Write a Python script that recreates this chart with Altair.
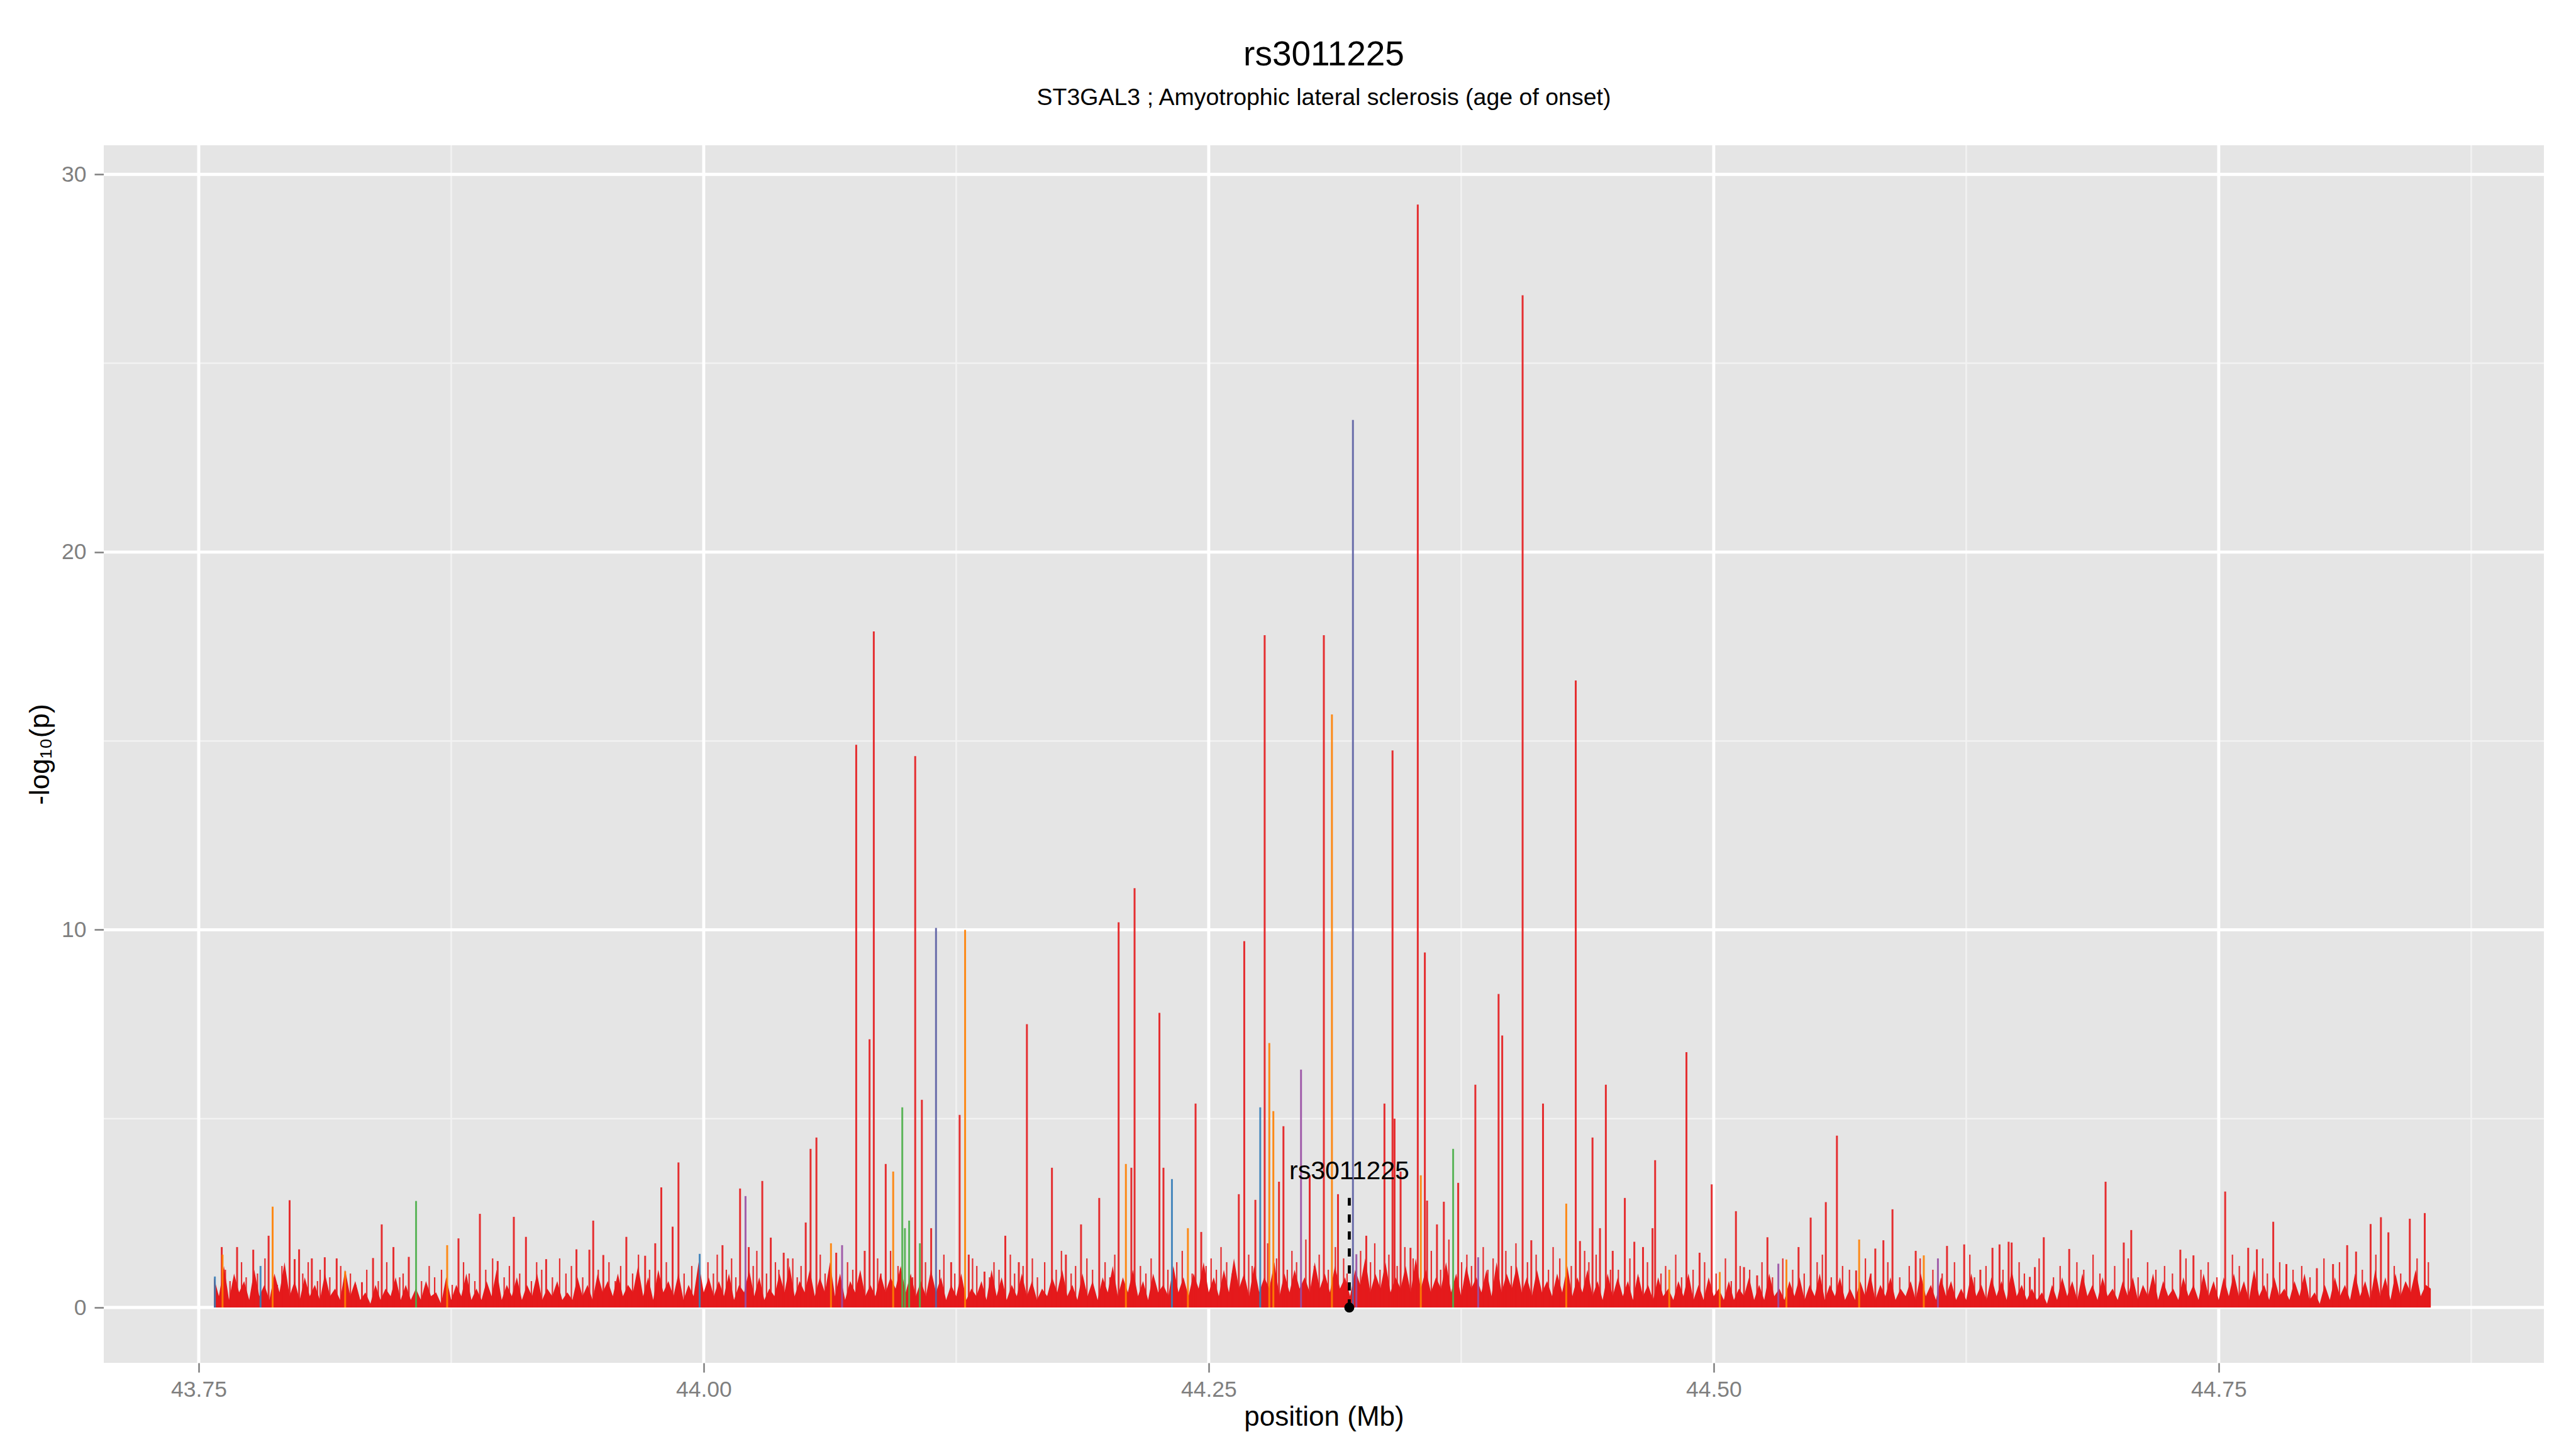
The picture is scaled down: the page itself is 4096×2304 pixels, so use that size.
import altair as alt
import pandas as pd

TITLE = "rs3011225"
SUBTITLE = "ST3GAL3 ; Amyotrophic lateral sclerosis (age of onset)"
X_TITLE = "position (Mb)"
Y_TITLE = "-log₁₀(p)"

x_ticks = [43.75, 44.00, 44.25, 44.50, 44.75]
x_minor = [43.875, 44.125, 44.375, 44.625, 44.875]
y_ticks = [0, 10, 20, 30]
y_minor = [5, 15, 25]
x_domain = [43.703, 44.911]
y_domain = [-1.465, 30.77]

# dense background signal on a 2.5 kb grid (read as local envelope)
base_start = 43.7575
base_step = 0.0025
base_lp = [
    0.8,0.3,1.1,0.2,0.9,0.4,0.7,0.2,1.0,0.3,0.6,0.2,0.9,0.4,1.2,0.3,0.7,0.2,0.8,0.3,
    0.6,0.2,0.9,0.3,0.5,0.2,1.0,0.3,0.7,0.2,0.4,0.1,0.6,0.2,0.5,0.3,0.8,0.2,0.6,0.2,
    0.5,0.2,0.7,0.3,0.4,0.1,0.8,0.2,0.6,0.3,0.9,0.2,0.5,0.2,0.7,0.3,1.0,0.2,0.6,0.3,
    0.8,0.2,0.6,0.3,0.9,0.2,0.5,0.3,0.7,0.2,0.4,0.2,0.8,0.3,0.6,0.2,0.9,0.4,0.7,0.3,
    0.9,0.3,0.6,0.4,1.1,0.3,0.8,0.2,1.0,0.4,0.7,0.3,0.9,0.2,0.6,0.3,1.2,0.4,0.8,0.3,
    0.7,0.3,0.9,0.2,0.6,0.4,1.0,0.3,0.8,0.2,0.5,0.3,0.9,0.4,1.1,0.3,0.7,0.4,1.0,0.3,
    0.8,0.4,1.2,0.3,0.9,0.2,0.7,0.4,1.0,0.3,0.6,0.3,0.9,0.4,0.8,0.5,1.1,0.4,0.9,0.3,
    0.7,0.3,1.0,0.4,0.8,0.2,0.6,0.3,0.9,0.2,0.5,0.3,0.7,0.2,1.0,0.3,0.8,0.2,0.6,0.3,
    0.9,0.3,0.7,0.2,0.5,0.3,0.8,0.4,1.0,0.3,0.6,0.2,0.9,0.3,0.7,0.2,0.8,0.4,1.1,0.3,
    0.8,0.4,1.0,0.3,0.7,0.2,0.9,0.4,0.6,0.3,1.1,0.4,0.8,0.3,0.9,0.5,1.2,0.4,0.8,0.3,
    1.0,0.4,1.3,0.5,0.9,0.3,1.1,0.4,0.8,0.5,1.2,0.3,0.9,0.4,1.0,0.5,0.8,0.4,1.2,0.5,
    0.9,0.4,1.1,0.5,0.8,0.3,1.0,0.6,1.3,0.4,0.9,0.5,1.2,0.4,0.8,0.5,1.1,0.4,1.3,0.5,
    1.0,0.4,0.8,0.5,1.2,0.4,0.9,0.3,1.1,0.5,0.8,0.4,1.0,0.3,1.2,0.4,0.9,0.5,1.1,0.4,
    0.8,0.3,1.0,0.4,0.7,0.3,0.9,0.4,1.1,0.3,0.8,0.4,1.0,0.3,0.7,0.2,0.9,0.3,0.8,0.3,
    0.7,0.2,0.9,0.3,0.6,0.2,0.8,0.3,0.5,0.2,0.7,0.3,0.9,0.2,0.6,0.2,0.8,0.3,0.5,0.2,
    0.7,0.2,0.5,0.3,0.8,0.2,0.6,0.2,0.9,0.3,0.5,0.2,0.7,0.3,0.8,0.2,0.6,0.3,0.9,0.2,
    0.6,0.3,0.8,0.2,0.5,0.2,0.7,0.3,0.9,0.2,0.6,0.3,0.8,0.2,0.5,0.3,0.7,0.2,0.9,0.3,
    0.6,0.2,0.8,0.3,0.7,0.2,0.5,0.2,0.9,0.3,0.6,0.2,0.8,0.3,0.7,0.2,1.0,0.3,0.6,0.2,
    0.5,0.2,0.4,0.1,0.6,0.2,0.8,0.3,0.7,0.2,0.9,0.3,0.6,0.2,0.8,0.3,0.5,0.2,0.7,0.3,
    0.8,0.2,0.6,0.3,0.9,0.2,0.7,0.3,0.5,0.2,0.8,0.3,0.6,0.2,0.9,0.3,0.7,0.2,0.8,0.3,
    0.9,0.3,0.7,0.2,1.0,0.3,0.6,0.2,0.8,0.3,0.5,0.2,0.7,0.3,0.9,0.2,0.4,0.1,0.6,0.2,
    0.8,0.3,0.6,0.2,0.9,0.3,0.7,0.2,1.0,0.3,0.8,0.2,0.9,0.3,0.7,0.4,1.0,0.3,0.6,0.5,
]

# small background SNP spikes (red, low LD)
fine_pos = [
    43.7632,43.7655,43.7712,43.7735,43.7791,43.7828,43.7889,43.7912,43.8015,43.8042,
    43.8088,43.8101,43.8149,43.8203,43.8251,43.8277,43.8332,43.8389,43.8431,43.8495,
    43.8512,43.8603,43.8641,43.8668,43.8702,43.8755,43.8811,43.8839,43.8867,43.8921,
    43.8955,43.9012,43.9038,43.9089,43.9147,43.9173,43.9198,43.9251,43.9287,43.9318,
    43.9345,43.9401,43.9478,43.9531,43.9562,43.9589,43.9648,43.9677,43.9732,43.9815,
    43.9903,43.9941,
    44.0021,44.0048,44.0067,44.0112,44.0138,44.0159,44.0245,44.0263,44.0311,44.0355,
    44.0372,44.0441,44.0463,44.0482,44.0577,44.0601,44.0712,44.0738,44.0861,44.0877,
    44.0925,44.0962,44.1034,44.1098,44.1168,44.1189,44.1243,44.1331,44.1352,44.1415,
    44.1437,44.1462,44.1518,44.1539,44.1581,44.1627,44.1652,44.1688,44.1745,44.1771,
    44.1819,44.1841,44.1897,44.1925,44.1987,44.2011,44.2035,44.2162,44.2189,44.2215,
    44.2298,44.2342,44.2369,44.2418,44.2487,
    44.2512,44.2538,44.2561,44.2589,44.2617,44.2698,44.2715,44.2792,44.2836,44.2889,
    44.2912,44.2935,44.2981,44.3023,44.3047,44.3092,44.3127,44.3168,44.3185,44.3252,
    44.3301,44.3322,44.3348,44.3392,44.3433,44.3471,44.3512,44.3602,44.3648,44.3689,
    44.3752,44.3778,44.3801,44.3859,44.3882,44.3908,44.3971,44.3998,44.4021,44.4078,
    44.4121,44.4182,44.4205,44.4238,44.4295,44.4361,44.4382,44.4418,44.4489,
    44.4528,44.4585,44.4628,44.4672,44.4739,44.4762,44.4812,44.4841,44.4898,44.4955,
    44.5012,44.5058,44.5087,44.5131,44.5178,44.5239,44.5291,44.5342,44.5391,44.5448,
    44.5512,44.5538,44.5582,44.5638,44.5672,44.5751,44.5778,44.5862,44.5921,44.5968,
    44.6022,44.6085,44.6131,44.6192,44.6268,44.6291,44.6348,44.6432,44.6512,44.6538,
    44.6611,44.6682,44.6715,44.6798,44.6832,44.6878,44.6912,44.6985,44.7052,44.7101,
    44.7148,44.7189,44.7232,44.7271,44.7338,44.7412,44.7448,44.7491,44.7568,44.7602,
    44.7718,44.7741,44.7802,44.7868,44.7911,44.7952,44.8021,44.8098,44.8211,44.8278,
    44.8369,44.8401,44.8482,44.8538,
]
fine_lp = [
    1.0,0.7,1.2,0.8,0.9,1.3,0.6,1.1,0.9,1.2,0.7,1.0,0.8,1.1,0.9,0.6,1.0,0.7,1.2,0.8,
    0.9,0.7,1.1,0.8,1.0,0.6,1.2,0.9,0.7,1.0,1.3,0.8,1.1,0.9,0.7,1.2,1.0,0.8,1.3,0.9,
    1.1,0.8,1.0,1.2,0.7,1.1,0.9,1.4,1.0,1.2,0.9,1.1,
    1.2,0.9,1.4,1.0,1.3,0.8,1.1,1.5,0.9,1.2,1.0,1.3,0.8,1.1,1.4,0.9,1.2,1.0,1.3,0.9,
    1.5,1.1,0.8,1.2,1.0,1.4,0.9,1.3,1.1,0.8,1.2,1.0,1.4,0.9,1.1,1.3,0.8,1.2,1.0,1.5,
    0.9,1.1,1.3,1.0,1.2,0.8,1.4,1.1,0.9,1.3,1.0,1.2,1.5,0.9,1.1,
    1.3,1.0,1.6,1.2,0.9,1.4,1.1,1.7,1.3,1.0,1.5,1.2,1.8,1.1,1.4,1.0,1.6,1.3,0.9,1.5,
    1.2,1.7,1.0,1.4,1.1,1.6,1.3,1.5,1.0,1.8,1.2,1.4,1.1,1.6,1.0,1.3,1.5,1.1,1.7,1.2,
    1.4,1.0,1.6,1.3,1.1,1.5,1.2,1.4,1.0,
    1.0,1.3,0.8,1.2,0.9,1.1,1.4,0.8,1.0,1.2,0.9,1.3,0.7,1.1,1.0,1.2,0.8,1.3,1.0,0.9,
    1.2,1.4,0.8,1.1,1.0,1.3,0.9,1.2,0.8,1.1,1.3,1.0,0.9,1.2,1.4,0.8,1.1,1.0,1.2,0.9,
    1.3,0.8,1.1,1.2,1.0,1.4,0.9,1.1,1.3,0.8,1.2,1.0,1.1,0.9,1.3,1.0,1.2,0.8,1.4,1.1,
    1.3,0.9,1.2,1.0,1.1,0.8,1.3,1.2,1.0,1.4,1.1,0.9,1.3,1.2,
]

# individual SNP spikes: position (Mb), -log10(p), LD class
spike_pos = [
    43.7580,43.7614,43.7618,43.7690,43.7770,43.7806,43.7846,43.7866,43.7950,43.7975,
    43.7997,43.8060,43.8124,43.8183,43.8225,43.8308,43.8363,43.8406,43.8464,43.8540,
    43.8576,43.8730,43.8786,43.8892,43.8980,43.9060,43.9120,43.9220,43.9370,43.9434,
    43.9453,43.9503,43.9617,43.9710,43.9760,43.9790,43.9846,43.9875,43.9980,
    44.0093,44.0180,44.0207,44.0223,44.0290,44.0332,44.0396,44.0417,44.0505,44.0529,
    44.0558,44.0630,44.0656,44.0685,44.0755,44.0797,44.0821,44.0842,44.0901,44.0938,
    44.0983,44.0996,44.1017,44.1047,44.1070,44.1080,44.1126,44.1150,44.1225,44.1267,
    44.1294,44.1312,44.1390,44.1493,44.1560,44.1600,44.1724,44.1793,44.1868,44.1958,
    44.2054,44.2090,44.2117,44.2133,44.2256,44.2276,44.2318,44.2397,44.2435,44.2463,
    44.2649,44.2676,44.2731,44.2755,44.2777,44.2800,44.2820,44.2848,44.2870,44.2957,
    44.3000,44.3070,44.3110,44.3140,44.3214,44.3231,44.3280,44.3370,44.3410,44.3420,
    44.3450,44.3499,44.3535,44.3550,44.3570,44.3581,44.3630,44.3664,44.3710,44.3735,
    44.3820,44.3834,44.3935,44.3953,44.4054,44.4097,44.4155,44.4270,44.4317,44.4338,
    44.4400,44.4437,44.4466,44.4500,44.4560,44.4607,44.4650,44.4697,44.4710,44.4780,
    44.4865,44.4930,44.4990,44.5030,44.5110,44.5150,44.5215,44.5266,44.5320,44.5360,
    44.5420,44.5480,44.5555,44.5610,44.5705,44.5720,44.5800,44.5840,44.5885,44.6000,
    44.6040,44.6110,44.6155,44.6240,44.6320,44.6380,44.6415,44.6460,44.6475,44.6565,
    44.6590,44.6634,44.6760,44.6940,44.7030,44.7067,44.7310,44.7375,44.7532,44.7646,
    44.7689,44.7770,44.7835,44.7986,44.8066,44.8136,44.8180,44.8252,44.8303,44.8340,
    44.8446,44.8520,
]
spike_lp = [
    0.82,1.6,1.4,1.6,1.53,1.1,1.9,2.67,2.84,1.28,
    1.54,1.3,1.33,1.3,0.96,0.67,1.31,2.2,1.6,1.34,
    2.82,1.65,1.83,2.48,1.23,2.4,1.87,1.28,1.54,1.53,
    2.3,1.39,1.87,1.37,1.7,3.18,2.14,3.84,1.42,
    1.65,3.15,2.95,1.6,3.35,1.85,1.45,1.3,2.25,4.2,
    4.5,1.7,1.45,1.65,14.9,1.5,7.1,17.9,3.8,3.6,
    5.3,2.1,2.3,14.6,1.7,5.5,2.1,10.05,1.2,5.1,
    10.0,1.4,0.95,1.9,1.2,7.5,3.7,1.4,2.2,2.9,
    10.2,3.8,3.7,11.1,7.8,3.7,3.4,2.1,5.4,2.0,
    3.0,9.7,2.85,5.3,17.8,7.0,5.2,3.33,4.8,6.3,
    3.5,17.8,15.7,3.0,23.5,1.41,1.9,5.4,14.75,5.0,
    3.6,1.58,29.2,3.5,9.4,2.83,2.2,2.8,4.2,3.3,
    5.9,1.33,8.3,7.2,26.8,1.78,5.4,2.75,16.6,1.76,
    4.5,2.1,5.9,1.5,2.9,1.74,1.6,2.1,3.9,1.0,
    6.76,1.45,3.26,0.94,2.55,1.07,0.85,1.86,1.16,1.27,
    1.6,2.38,2.79,4.55,0.98,1.8,1.56,1.78,2.6,1.5,
    1.38,1.3,1.63,1.67,1.0,1.58,1.67,1.74,1.72,0.81,
    1.07,1.86,1.55,3.33,1.72,2.05,1.53,1.38,3.07,1.58,
    1.54,2.27,1.15,1.04,1.15,1.65,1.48,2.21,2.39,1.99,
    2.35,2.5,
]
spike_ld = [
    "b","r","o","r","r","b","r","o","r","r",
    "r","r","r","r","o","r","r","r","r","r",
    "g","o","r","r","r","r","r","r","r","r",
    "r","r","r","r","r","r","r","r","b",
    "r","r","p","r","r","r","r","r","r","r",
    "r","o","r","p","r","r","r","r","r","o",
    "g","g","g","r","g","r","r","pb","r","r",
    "o","r","r","r","r","r","r","r","r","r",
    "r","o","r","r","r","r","b","o","r","r",
    "r","r","r","b","r","o","o","r","r","p",
    "r","r","o","r","pb","p","r","r","r","r",
    "r","r","r","o","r","r","r","r","g","r",
    "r","p","r","r","r","r","r","o","r","r",
    "r","r","r","r","r","r","r","r","r","o",
    "r","r","r","o","r","r","r","r","p","o",
    "r","r","r","r","r","o","r","r","r","r",
    "o","p","r","r","r","r","r","r","r","r",
    "r","r","r","r","r","r","r","r","r","r",
    "r","r","r","r","r","r","r","r","r","r",
    "r","r",
]

ld_classes = ["r", "o", "g", "b", "p", "pb"]
ld_colors = ["#E41A1C", "#FF7F00", "#4DAF4A", "#377EB8", "#984EA3", "#5C5FA3"]

lead_pos = [44.3196]
lead_name = ["rs3011225"]
lead_line_top = [2.9]
lead_label_lp = [3.4]

FONT = "Liberation Sans"

base_df = pd.DataFrame({
    "pos": [base_start + i * base_step for i in range(len(base_lp))],
    "lp": base_lp,
    "zero": 0.0,
})
m = min(len(fine_pos), len(fine_lp))
fine_df = pd.DataFrame({"pos": fine_pos[:m], "lp": fine_lp[:m], "zero": 0.0})
n = min(len(spike_pos), len(spike_lp), len(spike_ld))
spike_df = pd.DataFrame({"pos": spike_pos[:n], "lp": spike_lp[:n], "ld": spike_ld[:n], "zero": 0.0})
spike_df["z"] = spike_df["ld"].map(lambda c: 0 if c == "r" else 1)
spike_df = spike_df.sort_values(["z", "pos"]).reset_index(drop=True)
lead_df = pd.DataFrame({"pos": lead_pos, "name": lead_name, "top": lead_line_top,
                        "lab": lead_label_lp, "zero": [0.0]})

xscale = alt.Scale(domain=x_domain, nice=False, zero=False)
yscale = alt.Scale(domain=y_domain, nice=False, zero=False)

xaxis = alt.Axis(values=x_ticks, format=".2f", grid=False, domain=False,
                 tickSize=15, tickWidth=2.5, tickColor="#7F7F7F",
                 labelColor="#7F7F7F", labelFontSize=35.5, labelFont=FONT,
                 labelPadding=10, labelFlush=False, labelOverlap=False,
                 titleFont=FONT, titleFontSize=44, titleFontWeight="normal",
                 titleColor="black", titlePadding=4)
yaxis = alt.Axis(values=y_ticks, format="d", grid=False, domain=False,
                 tickSize=15, tickWidth=2.5, tickColor="#7F7F7F",
                 labelColor="#7F7F7F", labelFontSize=35.5, labelFont=FONT,
                 labelPadding=13, labelFlush=False, labelOverlap=False,
                 titleFont=FONT, titleFontSize=44, titleFontWeight="normal",
                 titleColor="black", titlePadding=11)


def X(field):
    return alt.X(field, type="quantitative", scale=xscale, axis=xaxis, title=X_TITLE)


def Y(field):
    return alt.Y(field, type="quantitative", scale=yscale, axis=yaxis, title=Y_TITLE)


minor_x = alt.Chart(pd.DataFrame({"v": x_minor})).mark_rule(color="#F2F2F2", strokeWidth=2.5).encode(x=X("v"))
minor_y = alt.Chart(pd.DataFrame({"v": y_minor})).mark_rule(color="#F2F2F2", strokeWidth=2.5).encode(y=Y("v"))
major_x = alt.Chart(pd.DataFrame({"v": x_ticks})).mark_rule(color="#FFFFFF", strokeWidth=4.9).encode(x=X("v"))
major_y = alt.Chart(pd.DataFrame({"v": y_ticks})).mark_rule(color="#FFFFFF", strokeWidth=4.9).encode(y=Y("v"))

base = alt.Chart(base_df).mark_area(color="#E41A1C", interpolate="linear").encode(
    x=X("pos"), y=Y("lp"), y2="zero"
)

fine = alt.Chart(fine_df).mark_rule(color="#E41A1C", strokeWidth=2.2, opacity=0.9).encode(
    x=X("pos"), y=Y("zero"), y2="lp"
)

spikes = alt.Chart(spike_df).mark_rule(strokeWidth=3, opacity=0.9).encode(
    x=X("pos"), y=Y("zero"), y2="lp",
    color=alt.Color("ld:N", scale=alt.Scale(domain=ld_classes, range=ld_colors), legend=None),
)

lead_line = alt.Chart(lead_df).mark_rule(color="black", strokeWidth=4.8, strokeDash=[13, 14]).encode(
    x=X("pos"), y=Y("zero"), y2="top"
)
lead_point = alt.Chart(lead_df).mark_circle(color="black", size=254, opacity=1).encode(
    x=X("pos"), y=Y("zero")
)
lead_text = alt.Chart(lead_df).mark_text(font=FONT, fontSize=41, color="black",
                                         align="center", baseline="alphabetic").encode(
    x=X("pos"), y=Y("lab"), text="name:N"
)

chart = alt.layer(minor_x, minor_y, major_x, major_y, base, fine, spikes,
                  lead_line, lead_point, lead_text).properties(
    width=3880, height=1936,
    padding={"left": 157, "top": 223, "right": 40, "bottom": 121},
    autosize=alt.AutoSizeParams(type="none"),
    background="white",
    title=alt.TitleParams(text=TITLE, subtitle=SUBTITLE, font=FONT, subtitleFont=FONT,
                          fontSize=55, subtitleFontSize=37.5, fontWeight="normal",
                          color="black", subtitleColor="black", anchor="middle",
                          offset=53, subtitlePadding=21),
).configure_view(fill="#E5E5E5", stroke=None)

chart.save("out.html", embed_options={"renderer": "svg", "actions": False})
